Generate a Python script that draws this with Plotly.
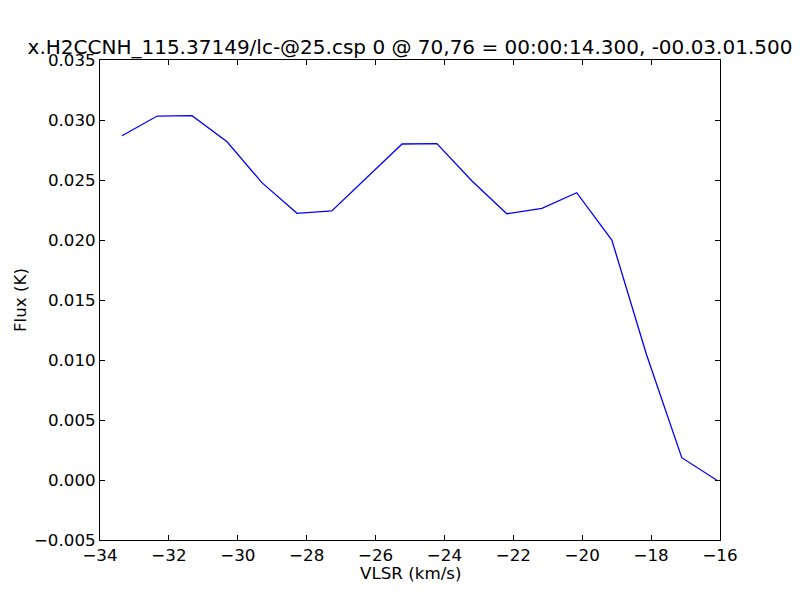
import plotly.graph_objects as go

vlsr = [-33.36, -32.34, -31.33, -30.31, -29.30, -28.28, -27.27, -26.25, -25.23,
        -24.22, -23.20, -22.19, -21.17, -20.16, -19.14, -18.13, -17.11, -16.10]
flux = [0.02869, 0.03033, 0.03036, 0.02819, 0.02478, 0.02222, 0.02242, 0.02517, 0.02800,
        0.02803, 0.02492, 0.02219, 0.02264, 0.02394, 0.02000, 0.01042, 0.00186, 0.00000]

title = "x.H2CCNH_115.37149/lc-@25.csp 0 @ 70,76 = 00:00:14.300, -00.03.01.500"
xlabel = "VLSR (km/s)"
ylabel = "Flux (K)"

W, H = 792, 592
L, R, T, B = 92, 80, 52, 60
PW, PH = W - L - R, H - T - B

fig = go.Figure()
fig.add_trace(go.Scatter(x=vlsr, y=flux, mode="lines",
                         line=dict(color="#0000ff", width=1.3), showlegend=False))

font = dict(family="DejaVu Sans", size=16.7, color="black")
axcommon = dict(showline=True, linecolor="black", linewidth=1, mirror="ticks",
                ticks="inside", ticklen=5, tickcolor="black", showgrid=False,
                zeroline=False, tickfont=font)

fig.update_layout(
    width=W, height=H,
    margin=dict(l=L, r=R, t=T, b=B),
    paper_bgcolor="white", plot_bgcolor="white",
    font=font,
    title=dict(text=title, x=402 / W, xref="container", xanchor="center",
               y=1 - 39 / H, yref="container", yanchor="middle",
               font=dict(family="DejaVu Sans", size=20, color="black")),
    xaxis=dict(range=[-34, -16], dtick=2, tick0=-34, **axcommon),
    yaxis=dict(range=[-0.005, 0.035], dtick=0.005, tick0=0, tickformat=".3f", **axcommon),
    annotations=[
        dict(text=xlabel, xref="paper", yref="paper", x=0.5, y=-33 / PH,
             xanchor="center", yanchor="middle", showarrow=False, font=font,
             borderpad=0),
        dict(text=ylabel, xref="paper", yref="paper", x=(12 - L) / PW, y=0.5,
             xanchor="center", yanchor="middle", showarrow=False, font=font,
             textangle=-90, borderpad=0),
    ],
)

fig.write_html("out.html")
